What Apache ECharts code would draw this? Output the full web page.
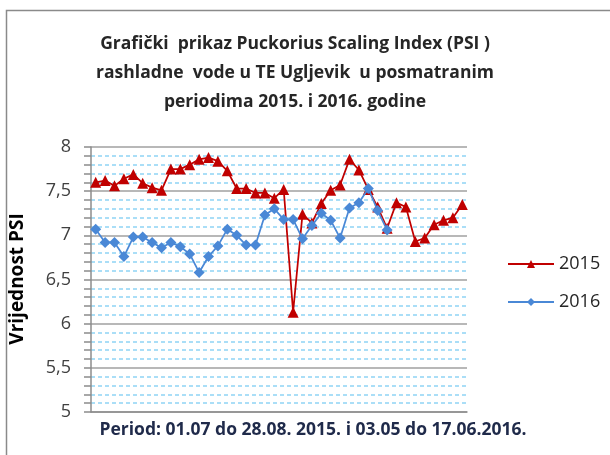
<!DOCTYPE html>
<html>
<head>
<meta charset="utf-8">
<script src="https://cdn.jsdelivr.net/npm/echarts@6/dist/echarts.min.js"></script>
<style>
html,body{margin:0;padding:0;background:#fff;}
#c{width:610px;height:455px;}
</style>
</head>
<body>
<div id="c"></div>
<script>
var titleLines = ['Grafički  prikaz Puckorius Scaling Index (PSI )', 'rashladne  vode u TE Ugljevik  u posmatranim', 'periodima 2015. i 2016. godine'];
var xAxisTitle = 'Period: 01.07 do 28.08. 2015. i 03.05 do 17.06.2016.';
var yAxisTitle = 'Vrijednost PSI';
var seriesNames = ['2015', '2016'];
var psi2015 = [7.60, 7.62, 7.56, 7.64, 7.69, 7.59, 7.54, 7.51, 7.75, 7.75, 7.80, 7.86, 7.88, 7.84, 7.73, 7.53, 7.53, 7.48, 7.48, 7.42, 7.52, 6.13, 7.24, 7.14, 7.36, 7.51, 7.57, 7.86, 7.74, 7.52, 7.32, 7.08, 7.37, 7.32, 6.93, 6.97, 7.12, 7.17, 7.20, 7.35];
var psi2016 = [7.07, 6.92, 6.92, 6.76, 6.98, 6.98, 6.92, 6.86, 6.92, 6.87, 6.79, 6.58, 6.76, 6.88, 7.07, 7.00, 6.89, 6.89, 7.23, 7.30, 7.18, 7.18, 6.96, 7.11, 7.25, 7.17, 6.97, 7.31, 7.37, 7.53, 7.28, 7.06];
var categories = psi2015.map(function(_, i){ return String(i + 1); });
var yMin = 5, yMax = 8, yStep = 0.5;

var chart = echarts.init(document.getElementById('c'), null, {renderer: 'canvas'});
chart.setOption({
  animation: false,
  backgroundColor: '#ffffff',
  graphic: [
    {type: 'rect', shape: {x: 6.5, y: 10.5, width: 640, height: 500}, style: {fill: 'none', stroke: '#8a8a8a', lineWidth: 1.5}, silent: true},
    {type: 'text', x: 295, y: 30, style: {text: titleLines.join('\n'), font: 'bold 17.5px "Open Sans"', fill: '#262626', align: 'center', verticalAlign: 'top', lineHeight: 29}, silent: true},
    {type: 'text', x: 313, y: 430, style: {text: xAxisTitle, font: 'bold 17.5px "Open Sans"', fill: '#1f2a4a', align: 'center', verticalAlign: 'middle'}, silent: true},
    {type: 'text', x: 18, y: 279, rotation: Math.PI / 2, style: {text: yAxisTitle, font: 'bold 19px "Open Sans"', fill: '#000', align: 'center', verticalAlign: 'middle'}, silent: true}
  ],
  legend: {
    orient: 'vertical',
    left: 502, top: 250,
    itemGap: 20,
    itemWidth: 46, itemHeight: 10,
    textStyle: {fontSize: 18, color: '#262626', fontFamily: 'Open Sans'},
    data: seriesNames
  },
  grid: {left: 91, right: 143, top: 147, bottom: 43, containLabel: false},
  xAxis: {
    type: 'category',
    data: categories,
    boundaryGap: true,
    axisLine: {lineStyle: {color: '#8c8c8c', width: 1.5}},
    axisTick: {show: false},
    axisLabel: {show: false},
    splitLine: {show: false}
  },
  yAxis: {
    type: 'value',
    min: yMin, max: yMax, interval: yStep,
    axisLine: {show: true, lineStyle: {color: '#8c8c8c', width: 1.5}},
    axisTick: {show: true, inside: false, length: 7, lineStyle: {color: '#8c8c8c', width: 1.5}},
    minorTick: {show: true, splitNumber: 5, length: 7, lineStyle: {color: '#8c8c8c', width: 1.5}},
    axisLabel: {fontSize: 18, color: '#404040', margin: 20, fontFamily: 'Open Sans', formatter: function(v){ return String(v).replace('.', ','); }},
    splitLine: {show: true, lineStyle: {color: '#a0a0a0', width: 1.5}},
    minorSplitLine: {show: true, lineStyle: {color: '#8fd3f5', width: 1.5, type: [4, 3]}}
  },
  series: [
    {
      name: seriesNames[0], type: 'line', data: psi2015,
      symbol: 'triangle', symbolSize: 11, showSymbol: true, showAllSymbol: true,
      itemStyle: {color: '#c00000'},
      lineStyle: {color: '#c00000', width: 1.75},
      z: 2
    },
    {
      name: seriesNames[1], type: 'line', data: psi2016,
      symbol: 'diamond', symbolSize: 11, showSymbol: true, showAllSymbol: true,
      itemStyle: {color: '#4a88d6'},
      lineStyle: {color: '#4a88d6', width: 1.75},
      z: 3
    }
  ]
});
</script>
</body>
</html>
